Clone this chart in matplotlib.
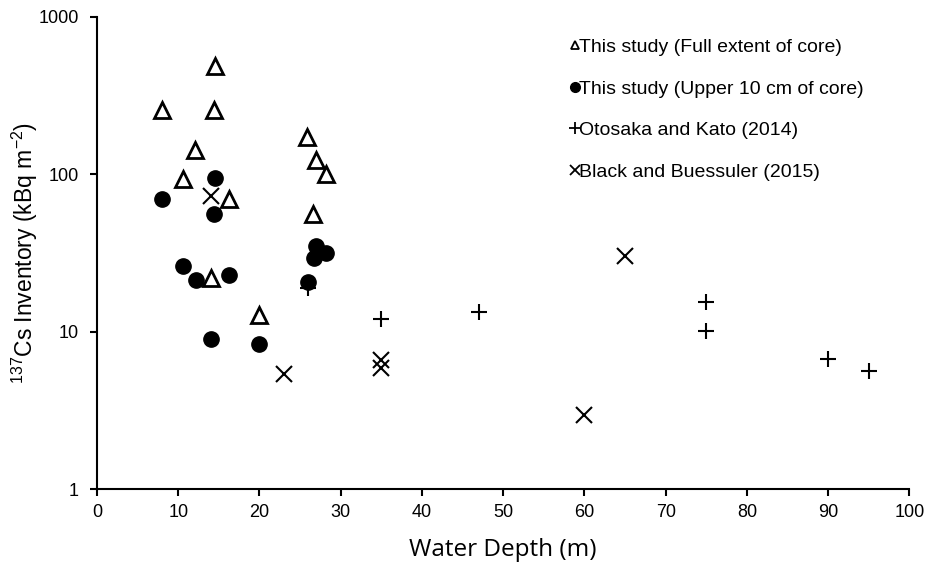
import matplotlib
matplotlib.use("Agg")
import matplotlib.pyplot as plt
from matplotlib.lines import Line2D

plt.rcParams["font.family"] = ["Liberation Sans", "DejaVu Sans"]
plt.rcParams["mathtext.fontset"] = "custom"
plt.rcParams["mathtext.rm"] = "Liberation Sans"
plt.rcParams["mathtext.it"] = "Liberation Sans:italic"

# ── DATA ─────────────────────────────────────────────────────────────────────
full_depth = [14.5, 8.0, 14.4, 12.1, 10.6, 16.2, 25.9, 27.0, 28.2, 26.6, 14.0, 19.9]
full_inv   = [490, 256, 256, 143, 93, 70, 173, 123, 101, 56, 22, 12.8]

upper_depth = [14.5, 8.0, 14.4, 27.0, 28.2, 26.7, 26.0, 10.6, 12.2, 16.3, 14.0, 19.9]
upper_inv   = [95, 70, 56, 35, 31.8, 29.2, 20.6, 26.1, 21.3, 22.9, 9.0, 8.3]

otosaka_depth = [26.0, 35.0, 47.0, 75.0, 75.0, 90.0, 95.0]
otosaka_inv   = [19.0, 12.1, 13.4, 15.5, 10.1, 6.7, 5.6]

black_depth = [14.0, 23.0, 35.0, 35.0, 60.0, 65.0]
black_inv   = [73, 5.4, 6.6, 5.9, 2.95, 30.2]

labels = ["This study (Full extent of core)",
          "This study (Upper 10 cm of core)",
          "Otosaka and Kato (2014)",
          "Black and Buessuler (2015)"]

# ── PLOT ─────────────────────────────────────────────────────────────────────
fig = plt.figure(figsize=(9.36, 5.63), dpi=100)
ax = fig.add_axes([0.1036, 0.1314, 0.868, 0.8386])

ax.plot(full_depth, full_inv, ls="none", marker="^", ms=12, mfc="white",
        mec="black", mew=2, zorder=3)
ax.plot(upper_depth, upper_inv, ls="none", marker="o", ms=11, mfc="black",
        mec="black", zorder=4)
ax.plot(otosaka_depth, otosaka_inv, ls="none", marker="+", ms=12,
        mec="black", mew=1.5, zorder=5)
ax.plot(black_depth, black_inv, ls="none", marker="x", ms=11,
        mec="black", mew=1.5, zorder=5)

ax.set_yscale("log")
ax.set_xlim(0, 100)
ax.set_ylim(1, 1000)
ax.set_xticks(range(0, 101, 10))
ax.set_yticks([1, 10, 100, 1000])
ax.set_yticklabels(["1", "10", "100", "1000"])
ax.minorticks_off()

for side in ("top", "right"):
    ax.spines[side].set_visible(False)
for side in ("left", "bottom"):
    ax.spines[side].set_linewidth(1.5)
ax.tick_params(axis="both", direction="out", length=5, width=1.5,
               labelsize=13, colors="black")
ax.tick_params(axis="x", pad=6)
ax.tick_params(axis="y", pad=8)

ax.set_xlabel("Water Depth (m)", fontsize=17.5, family=["Open Sans", "DejaVu Sans"])
ax.xaxis.set_label_coords(0.5, -0.1035)
ax.set_ylabel(r"$^{137}$Cs Inventory (kBq m$^{-2}$)", fontsize=16.5)
ax.yaxis.set_label_coords(-0.070, 0.5)

# small legend glyphs, like the reference
handles = [
    Line2D([], [], ls="none", marker="^", ms=6, mfc="white", mec="black", mew=1.3),
    Line2D([], [], ls="none", marker="o", ms=7, mfc="black", mec="black"),
    Line2D([], [], ls="none", marker="+", ms=8, mec="black", mew=1.3),
    Line2D([], [], ls="none", marker="x", ms=7, mec="black", mew=1.3),
]
ax.legend(handles, labels, loc="upper left", bbox_to_anchor=(0.572, 0.975),
          frameon=False, fontsize=14, handlelength=0.4,
          handletextpad=0.0, labelspacing=1.23, borderpad=0)

fig.savefig("out.png", dpi=100)
